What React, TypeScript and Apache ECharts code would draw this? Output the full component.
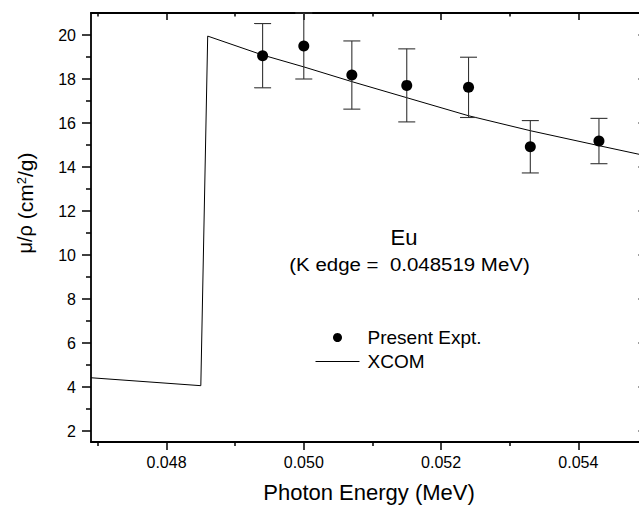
import React, { useEffect, useRef } from "react";
import * as echarts from "echarts";

// XCOM theoretical curve
const xcomEnergy = [0.0469, 0.0485, 0.0486, 0.0494, 0.05, 0.0507, 0.0515, 0.0524, 0.0533, 0.0543, 0.055];
const xcomMu = [4.42, 4.06, 19.95, 19.09, 18.55, 17.88, 17.15, 16.33, 15.65, 14.97, 14.5];

// Present experiment
const exptEnergy = [0.0494, 0.05, 0.0507, 0.0515, 0.0524, 0.0533, 0.0543];
const exptMu = [19.06, 19.5, 18.18, 17.71, 17.62, 14.92, 15.18];
const exptErr = [1.46, 1.5, 1.55, 1.66, 1.37, 1.19, 1.03];

// Ticks
const xMajorTicks = [0.048, 0.05, 0.052, 0.054];
const xMinorTicks = [0.047, 0.049, 0.051, 0.053];
const yMajorTicks = [2, 4, 6, 8, 10, 12, 14, 16, 18, 20];
const yMinorTicks = [3, 5, 7, 9, 11, 13, 15, 17, 19];

const FONT = "Liberation Sans, Arial, sans-serif";

export default function App() {
  const ref = useRef<HTMLDivElement>(null);

  useEffect(() => {
    if (!ref.current) return;
    const chart = echarts.init(ref.current, null, { renderer: "svg" });

    const X_MIN = 0.0469;
    const X_MAX = 0.055;
    const Y_MIN = 1.5;
    const Y_MAX = 21;

    const lineCol = "#000";
    const baseX = {
      type: "value" as const,
      min: X_MIN,
      max: X_MAX,
      splitLine: { show: false },
      gridIndex: 0,
    };
    const baseY = {
      type: "value" as const,
      min: Y_MIN,
      max: Y_MAX,
      splitLine: { show: false },
      gridIndex: 0,
    };

    const xAxes = [
      {
        ...baseX,
        position: "bottom",
        name: "Photon Energy (MeV)",
        nameLocation: "middle",
        nameGap: 39,
        nameTextStyle: { fontFamily: FONT, fontSize: 22, color: "#000" },
        axisLine: { show: true, lineStyle: { color: lineCol, width: 1.8 } },
        axisTick: { show: true, inside: false, length: 8, customValues: xMajorTicks, lineStyle: { color: lineCol, width: 1.5 } },
        axisLabel: {
          show: true,
          customValues: xMajorTicks,
          margin: 12,
          fontFamily: FONT,
          fontSize: 16,
          color: "#000",
          formatter: (v: number) => v.toFixed(3),
        },
      },
      {
        ...baseX,
        position: "bottom",
        axisLine: { show: false },
        axisTick: { show: true, inside: false, length: 4, customValues: xMinorTicks, lineStyle: { color: lineCol, width: 1.5 } },
        axisLabel: { show: false },
      },
      {
        ...baseX,
        position: "top",
        axisLine: { show: true, lineStyle: { color: lineCol, width: 1.8 } },
        axisTick: { show: true, inside: true, length: 7, customValues: xMajorTicks, lineStyle: { color: lineCol, width: 1.5 } },
        axisLabel: { show: false },
      },
      {
        ...baseX,
        position: "top",
        axisLine: { show: false },
        axisTick: { show: true, inside: true, length: 3.5, customValues: xMinorTicks, lineStyle: { color: lineCol, width: 1.5 } },
        axisLabel: { show: false },
      },
    ];

    const yAxes = [
      {
        ...baseY,
        position: "left",
        axisLine: { show: true, lineStyle: { color: lineCol, width: 1.8 } },
        axisTick: { show: true, inside: false, length: 9, customValues: yMajorTicks, lineStyle: { color: lineCol, width: 1.5 } },
        axisLabel: {
          show: true,
          customValues: yMajorTicks,
          margin: 15,
          fontFamily: FONT,
          fontSize: 16,
          color: "#000",
        },
      },
      {
        ...baseY,
        position: "left",
        axisLine: { show: false },
        axisTick: { show: true, inside: false, length: 5, customValues: yMinorTicks, lineStyle: { color: lineCol, width: 1.5 } },
        axisLabel: { show: false },
      },
      {
        ...baseY,
        position: "right",
        axisLine: { show: true, lineStyle: { color: lineCol, width: 1.8 } },
        axisTick: { show: true, inside: true, length: 8.5, customValues: yMajorTicks, lineStyle: { color: lineCol, width: 1.5 } },
        axisLabel: { show: false },
      },
      {
        ...baseY,
        position: "right",
        axisLine: { show: false },
        axisTick: { show: true, inside: true, length: 4, customValues: yMinorTicks, lineStyle: { color: lineCol, width: 1.5 } },
        axisLabel: { show: false },
      },
    ];

    const xcomData = xcomEnergy.map((e, i) => [e, xcomMu[i]]);
    const exptData = exptEnergy.map((e, i) => [e, exptMu[i]]);
    const errData = exptEnergy.map((e, i) => [e, exptMu[i] - exptErr[i], exptMu[i] + exptErr[i]]);

    const option = {
      animation: false,
      backgroundColor: "#fff",
      grid: { left: 91, top: 13, width: 556, height: 429, containLabel: false, outerBoundsMode: "none" },
      xAxis: xAxes,
      yAxis: yAxes,
      legend: {
        orient: "vertical",
        left: 315,
        top: 328,
        itemWidth: 44,
        itemHeight: 9,
        itemGap: 5,
        padding: 0,
        textStyle: { fontFamily: FONT, fontSize: 19, color: "#000", padding: [0, 0, 0, 3] },
        data: [
          { name: "Present Expt.", icon: "circle", itemStyle: { color: "#000", opacity: 1 } },
          { name: "XCOM", itemStyle: { opacity: 0 }, lineStyle: { color: "#000", width: 1, opacity: 1 } },
        ],
      },
      graphic: [
        {
          type: "text",
          x: 404,
          y: 237,
          style: { text: "Eu", fontFamily: FONT, fontSize: 22, fill: "#000", align: "center", verticalAlign: "middle" },
        },
        {
          type: "text",
          x: 409.5,
          y: 264,
          scaleX: 1.077,
          style: {
            text: "(K edge =  0.048519 MeV)",
            fontFamily: FONT,
            fontSize: 19,
            fill: "#000",
            align: "center",
            verticalAlign: "middle",
          },
        },
        {
          type: "text",
          x: 25,
          y: 203,
          rotation: Math.PI / 2,
          style: {
            text: "{g|μ/ρ} (cm{s|2}/g)",
            fontFamily: FONT,
            fontSize: 21,
            fill: "#000",
            align: "center",
            verticalAlign: "middle",
            rich: {
              g: { fontFamily: FONT, fontSize: 20, fill: "#000" },
              s: { fontFamily: FONT, fontSize: 13, fill: "#000", verticalAlign: "top", padding: [0, 0, 8, 0] },
            },
          },
        },
      ],
      series: [
        {
          name: "XCOM",
          type: "line",
          xAxisIndex: 0,
          yAxisIndex: 0,
          data: xcomData,
          symbol: "none",
          lineStyle: { color: "#000", width: 1 },
          itemStyle: { color: "#000" },
          z: 2,
        },
        {
          name: "errbar",
          type: "custom",
          xAxisIndex: 0,
          yAxisIndex: 0,
          data: errData,
          encode: { x: 0, y: [1, 2] },
          z: 3,
          renderItem: (params: any, api: any) => {
            const x = api.value(0);
            const lo = api.coord([x, api.value(1)]);
            const hi = api.coord([x, api.value(2)]);
            const w = 8.5;
            const style = { stroke: "#333", lineWidth: 1.1 };
            return {
              type: "group",
              children: [
                { type: "line", shape: { x1: lo[0], y1: lo[1], x2: hi[0], y2: hi[1] }, style },
                { type: "line", shape: { x1: lo[0] - w, y1: lo[1], x2: lo[0] + w, y2: lo[1] }, style },
                { type: "line", shape: { x1: hi[0] - w, y1: hi[1], x2: hi[0] + w, y2: hi[1] }, style },
              ],
            };
          },
        },
        {
          name: "Present Expt.",
          type: "scatter",
          xAxisIndex: 0,
          yAxisIndex: 0,
          data: exptData,
          symbol: "circle",
          symbolSize: 11,
          itemStyle: { color: "#000", opacity: 1 },
          z: 4,
        },
      ],
    };

    chart.setOption(option as any);
    return () => chart.dispose();
  }, []);

  return (
    <div
      ref={ref}
      style={{ position: "fixed", left: 0, top: 0, width: 639, height: 507, background: "#fff" }}
    />
  );
}
